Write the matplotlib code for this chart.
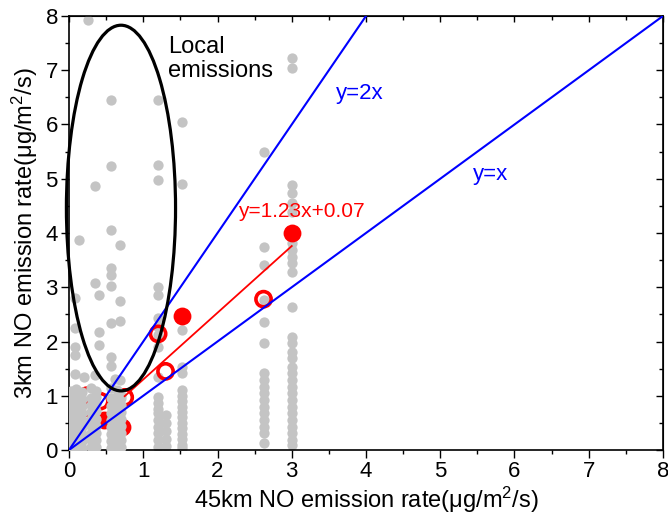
import matplotlib
matplotlib.use('Agg')
import matplotlib.pyplot as plt
from matplotlib.patches import Ellipse
from matplotlib.ticker import MultipleLocator

plt.rcParams['font.family'] = ['Liberation Sans', 'DejaVu Sans']
plt.rcParams['mathtext.fontset'] = 'custom'
plt.rcParams['mathtext.rm'] = 'Liberation Sans'
plt.rcParams['mathtext.default'] = 'regular'

# gray points, per column (x, list of y)
gray_cols = [
    (3.00, [7.22, 7.04, 4.88, 4.74, 4.55, 4.39, 4.00, 3.82, 3.69, 3.56, 3.45, 3.28, 2.64, 2.08,
            1.97, 1.81, 1.70, 1.53, 1.42, 1.29, 1.16, 1.05, 0.92, 0.79, 0.68, 0.55, 0.42, 0.31,
            0.18, 0.09]),
    (2.62, [5.49, 3.74, 3.41, 2.76, 2.36, 1.97, 1.42, 1.29, 1.16, 1.05, 0.92, 0.79, 0.68, 0.55,
            0.42, 0.31, 0.13]),
    (1.52, [6.05, 4.90, 2.21, 1.53, 1.42, 1.10, 1.00, 0.90, 0.80, 0.70, 0.60, 0.50, 0.40, 0.30,
            0.20, 0.10, 0.03]),
    (1.20, [6.45, 5.25, 4.98, 3.00, 2.86, 2.43, 2.27, 2.12, 1.90, 1.35, 0.98, 0.87, 0.75, 0.68,
            0.55, 0.42, 0.31, 0.18, 0.05]),
    (1.30, [0.65, 0.50, 0.35, 0.20, 0.07]),
]

# scattered gray points inside the ellipse
gray_x = [0.26, 0.57, 0.57, 0.35, 0.57, 0.14, 0.69, 0.57, 0.57, 0.35, 0.57, 0.41, 0.69, 0.08,
          0.57, 0.69, 0.41, 0.08, 0.41, 0.57, 0.08, 0.08, 0.08, 0.35, 0.69, 0.57, 0.20, 0.62]
gray_y = [7.93, 6.45, 5.24, 4.87, 4.06, 3.87, 3.78, 3.35, 3.23, 3.07, 3.02, 2.86, 2.74, 2.80,
          2.35, 2.37, 2.18, 2.24, 1.94, 1.72, 1.90, 1.75, 1.41, 1.38, 1.29, 1.54, 1.35, 1.30]

# dense gray cluster near the origin (drawn over the red circles)
dense_cols = [
    (0.03, [0.05, 0.17, 0.30, 0.43, 0.56, 0.69, 0.82, 0.95, 1.08]),
    (0.10, [0.06, 0.19, 0.32, 0.45, 0.58, 0.71, 0.84, 0.97, 1.12]),
    (0.17, [0.04, 0.16, 0.29, 0.42, 0.55, 0.68, 0.81, 0.94, 1.07]),
    (0.30, [0.05, 0.18, 0.31, 0.44, 0.57, 0.70, 0.83, 0.96, 1.14]),
    (0.36, [0.06, 0.19, 0.32, 0.45, 0.58, 0.71, 0.84, 0.97, 1.08]),
    (0.57, [0.04, 0.17, 0.30, 0.43, 0.56, 0.69, 0.82, 0.95, 1.15]),
    (0.64, [0.06, 0.19, 0.32, 0.45, 0.58, 0.71, 0.84, 0.97, 1.10]),
    (0.70, [0.05, 0.18, 0.31, 0.44, 0.57, 0.70, 0.83, 0.96, 1.02]),
]

# red points
red_fill_x = [3.00, 1.52, 0.05, 0.47, 0.72]
red_fill_y = [4.00, 2.47, 0.65, 0.55, 0.42]
red_open_x = [1.20, 1.30, 2.62, 0.22, 0.24, 0.42, 0.75]
red_open_y = [2.14, 1.45, 2.78, 0.78, 1.00, 0.90, 0.97]

slope, intercept = 1.23, 0.07
fit_range = [0.75, 3.0]

gray = '#c4c4c4'

fig = plt.figure(figsize=(6.68, 5.16), dpi=100)
ax = fig.add_axes([0.1033, 0.1279, 0.8892, 0.8411])

gx = [x for x, ys in gray_cols for _ in ys] + gray_x
gy = [y for _, ys in gray_cols for y in ys] + gray_y
ax.scatter(gx, gy, s=55, color=gray, linewidths=0, zorder=2)

ax.scatter(red_fill_x, red_fill_y, s=165, color='red', linewidths=0, zorder=3)
ax.scatter(red_open_x, red_open_y, s=120, facecolors='none', edgecolors='red', linewidths=2.6, zorder=3)

dx = [x for x, ys in dense_cols for _ in ys]
dy = [y for _, ys in dense_cols for y in ys]
ax.scatter(dx, dy, s=55, color=gray, linewidths=0, zorder=4)

# reference lines
ax.plot([0, 8], [0, 8], color='blue', lw=1.5, zorder=5)
ax.plot([0, 4], [0, 8], color='blue', lw=1.5, zorder=5)
ax.plot(fit_range, [slope * x + intercept for x in fit_range], color='red', lw=1.3, zorder=5)

ell = Ellipse((0.70, 4.46), 1.47, 6.74, fill=False, edgecolor='black', lw=2.3, zorder=6, clip_on=False)
ax.add_patch(ell)

ax.text(1.33, 7.64, 'Local\nemissions', fontsize=17, va='top', ha='left', linespacing=1.15)
ax.text(3.60, 6.58, 'y=2x', color='blue', fontsize=16, va='center', ha='left')
ax.text(5.44, 5.07, 'y=x', color='blue', fontsize=16, va='center', ha='left')
ax.text(2.28, 4.39, 'y=1.23x+0.07', color='red', fontsize=15, va='center', ha='left')

ax.set_xlim(0, 8)
ax.set_ylim(0, 8)
ax.xaxis.set_major_locator(MultipleLocator(1))
ax.xaxis.set_minor_locator(MultipleLocator(0.5))
ax.yaxis.set_major_locator(MultipleLocator(1))
ax.yaxis.set_minor_locator(MultipleLocator(0.5))
ax.tick_params(which='major', direction='out', length=6, width=1, labelsize=16, pad=2)
ax.tick_params(which='minor', direction='out', length=3, width=1)

# inward ticks on top and right
top = ax.secondary_xaxis('top')
top.xaxis.set_major_locator(MultipleLocator(1))
top.xaxis.set_minor_locator(MultipleLocator(0.5))
top.tick_params(which='major', direction='in', length=4, width=1, labeltop=False)
top.tick_params(which='minor', direction='in', length=3, width=1)

right = ax.secondary_yaxis('right')
right.yaxis.set_major_locator(MultipleLocator(1))
right.yaxis.set_minor_locator(MultipleLocator(0.5))
right.tick_params(which='major', direction='in', length=5, width=1, labelright=False)
right.tick_params(which='minor', direction='in', length=3, width=1)

for s in ax.spines.values():
    s.set_linewidth(1.2)

ax.set_xlabel('45km NO emission rate(μg/m$^2$/s)', fontsize=17, labelpad=2)
ax.set_ylabel('3km NO emission rate(μg/m$^2$/s)', fontsize=17, labelpad=4)

fig.savefig('out.png', dpi=100)
